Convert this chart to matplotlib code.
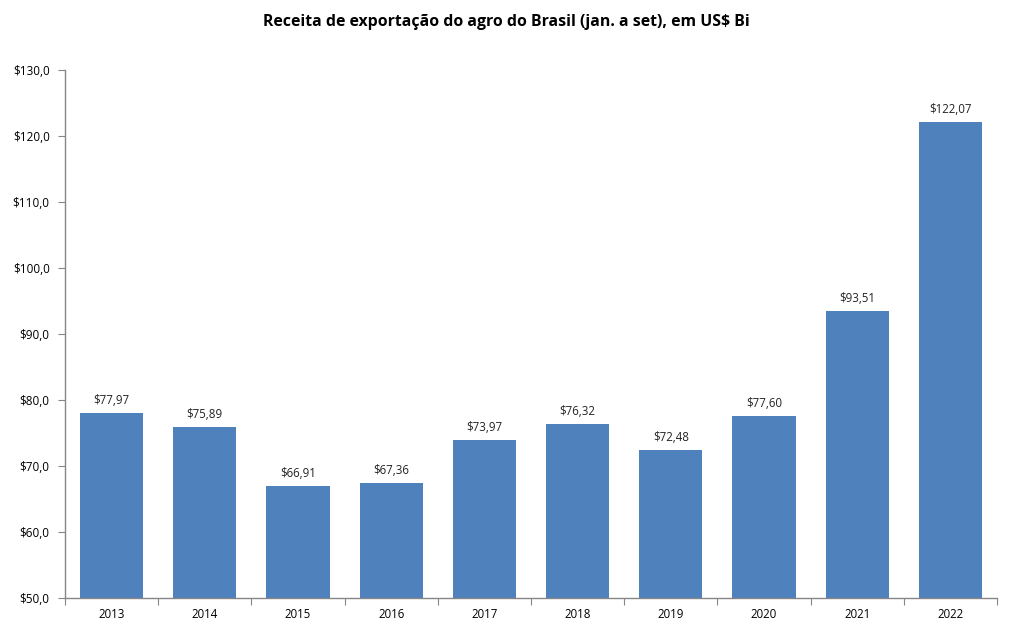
import matplotlib
matplotlib.use("Agg")
import matplotlib.pyplot as plt
import numpy as np

years = ["2013", "2014", "2015", "2016", "2017", "2018", "2019", "2020", "2021", "2022"]
values = [77.97, 75.89, 66.91, 67.36, 73.97, 76.32, 72.48, 77.60, 93.51, 122.07]
labels = ["$77,97", "$75,89", "$66,91", "$67,36", "$73,97", "$76,32", "$72,48", "$77,60", "$93,51", "$122,07"]
yticks = [50, 60, 70, 80, 90, 100, 110, 120, 130]
ytick_labels = ["$50,0", "$60,0", "$70,0", "$80,0", "$90,0", "$100,0", "$110,0", "$120,0", "$130,0"]

plt.rcParams['font.family'] = ['Open Sans', 'DejaVu Sans']

fig = plt.figure(figsize=(10.13, 6.32), dpi=100)
ax = fig.add_axes([65/1013, 34/632, (997-65)/1013, (598-70)/632])

x = np.arange(len(years))
ax.bar(x, [v - 50 for v in values], bottom=50, width=0.68, color="#4F81BD", zorder=2)
for xi, v, lab in zip(x, values, labels):
    ax.text(xi, v + 0.9, lab, ha="center", va="bottom", fontsize=8.3, color="#222222")

ax.set_ylim(50, 130)
ax.set_xlim(-0.5, len(years) - 0.5)
ax.set_yticks(yticks)
ax.set_yticklabels(ytick_labels, fontsize=8.5)
ax.set_xticks(np.arange(-0.5, len(years), 1.0))
ax.set_xticklabels([])
ax.set_xticks(x, minor=True)
ax.set_xticklabels(years, minor=True, fontsize=8.3)
ax.tick_params(axis="x", which="minor", length=0, pad=7)
ax.tick_params(axis="x", which="major", length=5, direction="out", color="#868686")
ax.tick_params(axis="y", length=5, direction="out", color="#868686", pad=6)

for s in ["top", "right"]:
    ax.spines[s].set_visible(False)
for s in ["left", "bottom"]:
    ax.spines[s].set_color("#868686")
    ax.spines[s].set_linewidth(1)

fig.text(0.5, 1 - 22/632, "Receita de exportação do agro do Brasil (jan. a set), em US$ Bi",
         ha="center", va="center", fontsize=11.4, fontweight="bold")

fig.savefig("out.png", dpi=100)
